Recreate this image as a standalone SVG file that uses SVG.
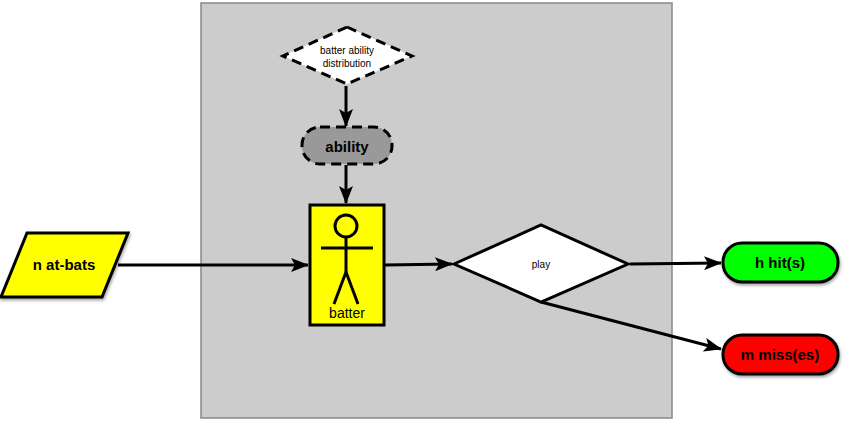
<svg xmlns="http://www.w3.org/2000/svg" width="845" height="421" viewBox="0 0 845 421">
<defs>
<marker id="ah" markerWidth="10" markerHeight="8" refX="9" refY="4" orient="auto" markerUnits="userSpaceOnUse" viewBox="0 0 10 8"><path d="M0,0 L10,4 L0,8 Z" fill="#000"/></marker>
<marker id="ah2" markerWidth="18" markerHeight="14" refX="17" refY="7" orient="auto" markerUnits="userSpaceOnUse" viewBox="0 0 18 14"><path d="M0,0 L18,7 L0,14 L4,7 Z" fill="#000"/></marker>
<filter id="sh" x="-20%" y="-20%" width="140%" height="150%"><feDropShadow dx="1" dy="2" stdDeviation="1.5" flood-opacity="0.35"/></filter>
</defs>
<style>
.s{stroke:#000;stroke-width:3}
.d{stroke-dasharray:10 6}
.t{font-family:"Liberation Sans",Arial,sans-serif;text-anchor:middle}
.b{font-weight:bold;font-size:15px}
.c{stroke:#000;stroke-width:3;fill:none;marker-end:url(#ah2)}
</style>
<rect x="201" y="3" width="471" height="415" fill="#cccccc" stroke="#888" stroke-width="1.5"/>
<g id="connectors">
<line class="c" x1="118" y1="265" x2="308" y2="265"/>
<line class="c" x1="385" y1="265" x2="452" y2="264"/>
<line class="c" x1="346" y1="86" x2="346" y2="126"/>
<line class="c" x1="346" y1="165" x2="346" y2="203"/>
<line class="c" x1="630" y1="264" x2="721" y2="263"/>
<line class="c" x1="541" y1="302" x2="721" y2="349"/>
</g>
<g id="dist"><polygon class="s d" points="347,27 412,56 347,84 283,56" fill="#fff"/>
<text class="t" x="347" y="54" font-size="10">batter ability</text><text class="t" x="347" y="67" font-size="10">distribution</text></g>
<g id="ability"><rect class="s d" x="302" y="127" width="90" height="37" rx="18" fill="#999"/>
<text class="t b" x="347" y="152">ability</text></g>
<g id="batter"><rect class="s" x="310" y="205" width="74" height="120" fill="#ffff00"/>
<g fill="none" stroke="#000" stroke-width="3"><circle cx="346" cy="226" r="11"/><line x1="321" y1="248" x2="373" y2="248"/><line x1="346" y1="237" x2="346" y2="272"/><polyline points="334,304 346,272 358,304"/></g>
<text class="t" x="347" y="318" font-size="14">batter</text></g>
<g id="play"><polygon class="s" points="454,264 541,225 628,264 541,302" fill="#fff"/>
<text class="t" x="541" y="268" font-size="10">play</text></g>
<g id="atbats"><polygon class="s" points="27,233 128,233 102,297 1,297" fill="#ffff00" filter="url(#sh)"/>
<text class="t b" x="64" y="270">n at-bats</text></g>
<g id="hits"><rect class="s" x="723" y="243" width="115" height="39" rx="19" fill="#00ff00" filter="url(#sh)"/>
<text class="t b" x="780" y="268">h hit(s)</text></g>
<g id="miss"><rect class="s" x="723" y="335" width="115" height="39" rx="19" fill="#ff0000" filter="url(#sh)"/>
<text class="t b" x="780" y="360">m miss(es)</text></g>
</svg>
